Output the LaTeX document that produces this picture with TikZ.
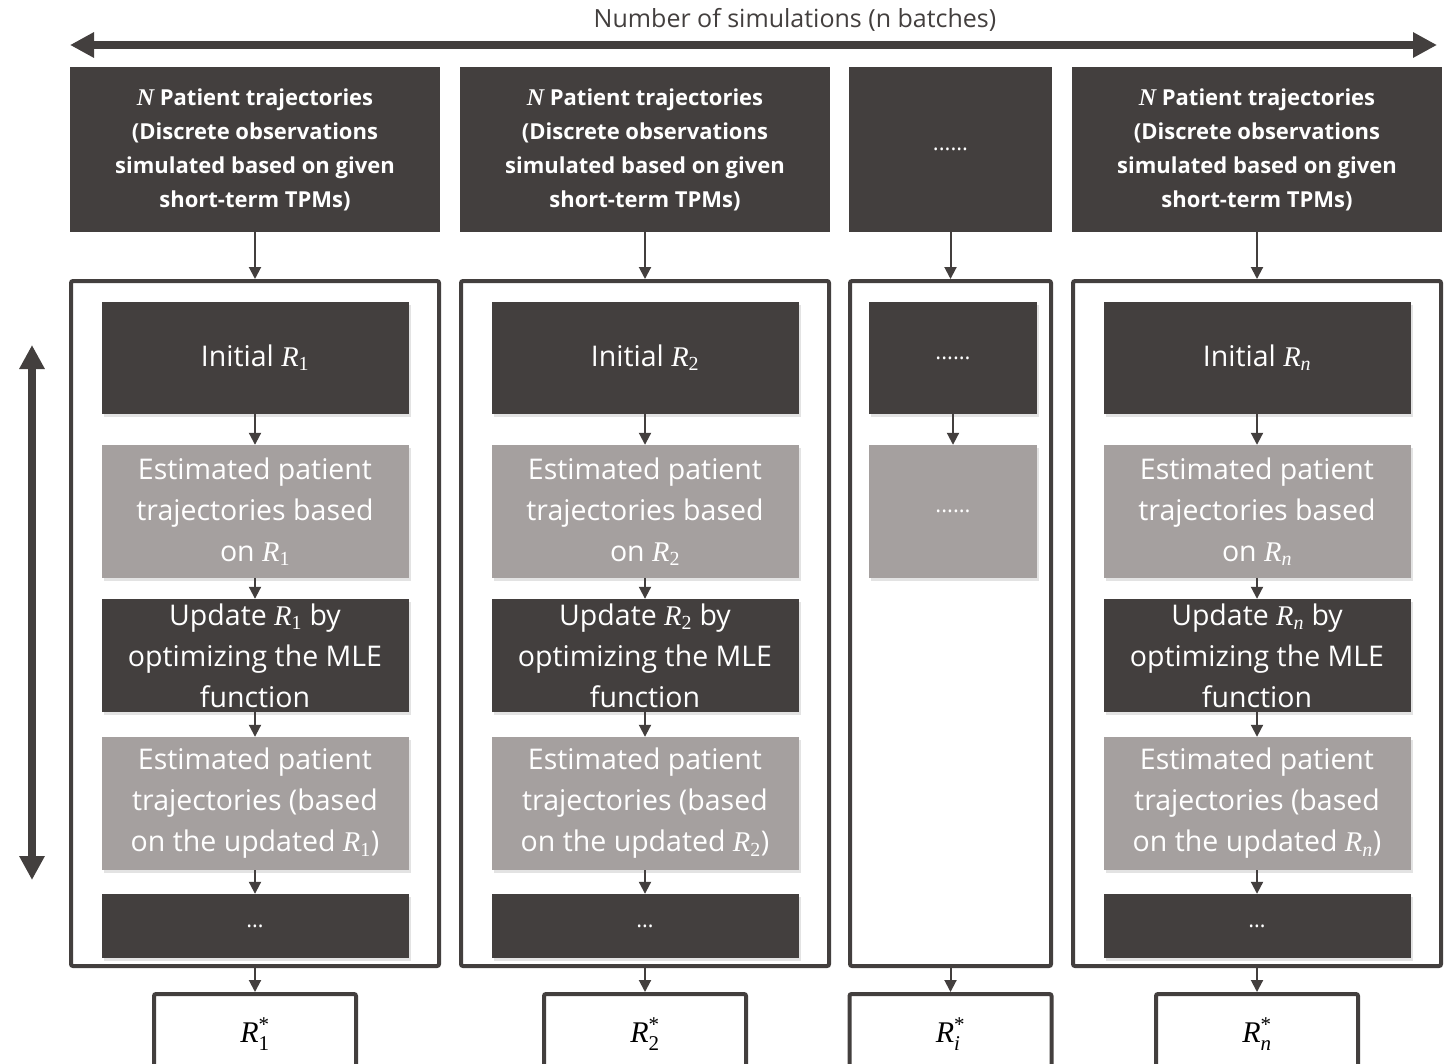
\RequirePackage{fix-cm}
\documentclass[tikz,border=0pt]{standalone}
\usepackage{amsmath}
\usepackage{fontspec}
\setmainfont{Open Sans}
\newfontfamily\rfont{Liberation Serif}
\usepackage{tikz}
\usetikzlibrary{positioning, arrows.meta, shadows}

\definecolor{boxdark}{HTML}{433F3E}
\definecolor{boxgray}{HTML}{A5A09F}

% rate symbols
\newcommand{\Rsub}[1]{$\text{\rfont\itshape R}_{\text{\rfont #1}}$}
\newcommand{\Rstar}[1]{$\text{\rfont\itshape R}_{\text{\rfont #1}}^{\text{\rfont *}}$}

\tikzset{
  >={Triangle[length=12pt,width=12pt]},
  flow/.style={->, draw=boxdark, line width=2pt},
  bigarrow/.style={{Triangle[length=24pt,width=24pt]}-{Triangle[length=24pt,width=24pt]}, draw=boxdark, line width=8pt},
  toplabel/.style={text=boxdark, font=\fontsize{25}{28}\selectfont},
  topbox/.style={fill=boxdark, text=white, inner sep=0pt, align=center, minimum height=165pt,
    font=\bfseries\fontsize{22}{34}\selectfont},
  darkbox/.style={fill=boxdark, text=white, inner sep=0pt, align=center, minimum width=307pt,
    font=\fontsize{28.5}{41}\selectfont,
    drop shadow={shadow xshift=2pt, shadow yshift=-3pt, opacity=0.22}},
  graybox/.style={darkbox, fill=boxgray},
  loopframe/.style={draw=boxdark, line width=4pt, rounded corners=2pt, inner sep=0pt, minimum height=685pt},
  result/.style={draw=boxdark, fill=white, line width=4pt, rounded corners=2pt, inner sep=0pt,
    minimum height=80pt, font=\fontsize{30}{30}\selectfont},
  smalldots/.style={font=\fontsize{22}{22}\selectfont}
}

\begin{document}
\begin{tikzpicture}[x=1pt, y=-1pt]
  \useasboundingbox (0,0) rectangle (1453,1063);
  \clip (0,0) rectangle (1453,1063);

  % batches and iterations
  \node[toplabel] (simlabel) at (795,20) {Number of simulations (n batches)};
  \coordinate (hleft) at (70,45);
  \coordinate (hright) at (1437,45);
  \draw[bigarrow] (hleft) -- (hright);
  \coordinate (vtop) at (32,345);
  \coordinate (vbot) at (32,880);
  \draw[bigarrow] (vtop) -- (vbot);

  % full batches
  \foreach \c/\x/\s in {1/255/1, 2/645/2, 4/1257/{\itshape n}} {
    \node[topbox, minimum width=370pt] (top\c) at (\x,149.5)
      {{\rfont\bfseries\itshape\fontsize{24}{34}\selectfont N} Patient trajectories\\(Discrete observations\\simulated based on given\\short-term TPMs)};
    \node[loopframe, minimum width=368pt] (frame\c) at (\x,623.5) {};
    \node[darkbox, minimum height=112pt] (init\c) at (\x,358) {Initial \Rsub{\s}};
    \node[graybox, minimum height=133pt] (est\c) at (\x,511.5)
      {Estimated patient\\trajectories based\\on \Rsub{\s}};
    \node[darkbox, minimum height=113pt] (upd\c) at (\x,655.5)
      {Update \Rsub{\s} by\\optimizing the MLE\\function};
    \node[graybox, minimum height=133pt] (estb\c) at (\x,803.5)
      {Estimated patient\\trajectories (based\\on the updated \Rsub{\s})};
    \node[darkbox, smalldots, minimum height=64pt] (more\c) at (\x,926) {\ldots};
    \node[result, minimum width=202pt] (res\c) at (\x,1034) {\Rstar{\s}};

    \draw[flow] (top\c.south) -- (frame\c.north);
    \draw[flow] (init\c) -- (est\c);
    \draw[flow] (est\c) -- (upd\c);
    \draw[flow] (upd\c) -- (estb\c);
    \draw[flow] (estb\c) -- (more\c);
    \draw[flow] (frame\c.south) -- (res\c.north);
  }

  % the i-th batch
  \node[topbox, smalldots, minimum width=203pt] (top3) at (950.5,149.5) {......};
  \node[loopframe, minimum width=201pt] (frame3) at (950.5,623.5) {};
  \node[darkbox, smalldots, minimum width=168pt, minimum height=112pt] (init3) at (953,358) {......};
  \node[graybox, smalldots, minimum width=168pt, minimum height=133pt] (est3) at (953,511.5) {......};
  \node[result, minimum width=202pt] (res3) at (950.5,1034) {\Rstar{\itshape i}};
  \draw[flow] (top3.south) -- (frame3.north);
  \draw[flow] (init3) -- (est3);
  \draw[flow] (frame3.south) -- (res3.north);
\end{tikzpicture}
\end{document}
